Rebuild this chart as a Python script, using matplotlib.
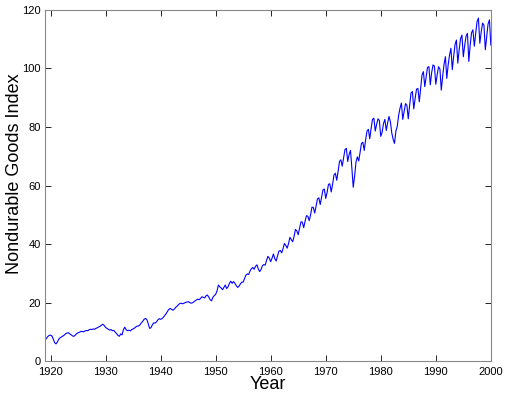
"""Nondurable goods index, quarterly readings 1919-2000"""
import matplotlib
matplotlib.use('Agg')
import matplotlib.pyplot as plt
import numpy as np

# one row per year, four readings per year
index_values = [
    7.2, 7.8, 8.4, 8.8,        # 1919
    8.9, 8.6, 7.5, 6.3,        # 1920
    5.9, 6.6, 7.5, 8.0,        # 1921
    8.3, 8.6, 8.9, 9.4,        # 1922
    9.6, 9.7, 9.3, 9.0,        # 1923
    8.6, 8.5, 8.9, 9.4,        # 1924
    9.7, 9.9, 10.1, 10.2,      # 1925
    10.0, 10.3, 10.5, 10.4,    # 1926
    10.7, 10.9, 10.8, 11.0,    # 1927
    10.9, 11.2, 11.4, 11.7,    # 1928
    11.9, 12.3, 12.6, 12.2,    # 1929
    11.5, 11.2, 10.9, 10.6,    # 1930
    10.8, 10.4, 10.5, 9.9,     # 1931
    9.4, 8.8, 8.5, 9.3,        # 1932
    9.0, 10.8, 11.6, 10.7,     # 1933
    10.4, 10.6, 10.3, 10.8,    # 1934
    11.0, 11.3, 11.7, 12.0,    # 1935
    12.0, 12.4, 13.1, 13.6,    # 1936
    14.3, 14.6, 14.2, 12.8,    # 1937
    11.2, 11.4, 12.4, 13.1,    # 1938
    13.0, 13.4, 14.1, 14.5,    # 1939
    14.3, 14.5, 15.0, 15.6,    # 1940
    16.2, 17.0, 17.7, 18.0,    # 1941
    17.7, 17.4, 17.8, 18.4,    # 1942
    18.8, 19.3, 19.7, 19.8,    # 1943
    19.6, 19.8, 20.0, 20.2,    # 1944
    20.3, 20.1, 19.8, 19.9,    # 1945
    20.2, 20.6, 20.9, 21.2,    # 1946
    21.0, 21.4, 22.0, 21.8,    # 1947
    21.6, 22.3, 22.6, 21.9,    # 1948
    21.0, 20.6, 21.8, 22.4,    # 1949
    22.8, 24.0, 26.0, 25.4,    # 1950
    25.0, 24.4, 25.2, 26.0,    # 1951
    24.8, 25.4, 26.6, 27.3,    # 1952
    26.6, 27.2, 26.6, 25.8,    # 1953
    25.2, 25.6, 26.4, 27.0,    # 1954
    27.0, 28.2, 29.4, 29.8,    # 1955
    29.6, 30.8, 31.6, 32.0,    # 1956
    31.4, 32.4, 32.9, 31.5,    # 1957
    30.6, 31.3, 32.6, 33.0,    # 1958
    32.8, 34.4, 35.8, 35.2,    # 1959
    34.0, 35.2, 36.6, 35.0,    # 1960
    34.2, 36.0, 37.6, 37.8,    # 1961
    37.0, 38.5, 40.2, 39.5,    # 1962
    38.6, 40.2, 42.3, 41.5,    # 1963
    40.8, 42.6, 45.0, 44.5,    # 1964
    43.2, 45.4, 47.6, 47.5,    # 1965
    45.6, 47.8, 49.7, 49.5,    # 1966
    48.0, 50.0, 52.6, 52.5,    # 1967
    50.6, 53.0, 55.4, 55.8,    # 1968
    53.5, 56.0, 58.5, 58.8,    # 1969
    55.6, 57.6, 60.4, 60.6,    # 1970
    57.8, 60.4, 63.6, 64.2,    # 1971
    61.8, 64.8, 68.2, 68.8,    # 1972
    66.6, 69.4, 72.3, 72.7,    # 1973
    68.2, 70.6, 72.0, 66.0,    # 1974
    59.4, 63.2, 68.0, 69.8,    # 1975
    68.4, 71.3, 74.4, 74.8,    # 1976
    72.0, 75.6, 78.6, 79.2,    # 1977
    76.0, 79.5, 82.6, 83.0,    # 1978
    78.6, 80.9, 82.8, 82.2,    # 1979
    76.8, 78.2, 81.2, 82.6,    # 1980
    78.8, 81.4, 83.6, 81.8,    # 1981
    78.0, 75.8, 74.4, 78.6,    # 1982
    80.2, 84.0, 86.4, 88.2,    # 1983
    82.6, 85.4, 88.0, 87.4,    # 1984
    82.8, 87.4, 91.6, 92.1,    # 1985
    86.2, 89.8, 92.9, 93.2,    # 1986
    88.6, 93.2, 97.8, 98.9,    # 1987
    93.8, 97.2, 100.4, 100.6,  # 1988
    94.4, 98.6, 101.2, 100.8,  # 1989
    94.6, 97.8, 100.6, 99.8,   # 1990
    92.6, 97.4, 101.4, 104.0,  # 1991
    96.6, 101.2, 104.6, 106.9, # 1992
    99.6, 104.2, 108.2, 109.7, # 1993
    101.8, 106.4, 110.2, 111.4,  # 1994
    104.0, 107.8, 111.0, 112.0,  # 1995
    102.4, 108.0, 112.2, 113.2,  # 1996
    107.6, 112.0, 116.0, 117.2,  # 1997
    108.6, 112.4, 115.5, 114.8,  # 1998
    106.4, 110.8, 115.2, 116.6,  # 1999
    108.0,                       # 2000
]
x_ticks = [1920, 1930, 1940, 1950, 1960, 1970, 1980, 1990, 2000]
y_ticks = [0, 20, 40, 60, 80, 100, 120]

years = 1919 + np.arange(len(index_values)) / 4.0

plt.rcParams['font.family'] = ['Liberation Sans', 'DejaVu Sans']

fig = plt.figure(figsize=(5.06, 3.96), dpi=100)
ax = fig.add_axes([0.089, 0.088, 0.881, 0.887])
ax.plot(years, index_values, color='#0000ff', linewidth=0.8)

ax.set_xlim(1919, 2000)
ax.set_ylim(0, 120)
ax.set_xticks(x_ticks)
ax.set_yticks(y_ticks)
ax.tick_params(direction='in', top=True, right=True, length=4, width=0.6,
               labelsize=8, colors='#000000')
ax.tick_params(axis='x', pad=4)
ax.tick_params(axis='y', pad=3)
for spine in ax.spines.values():
    spine.set_color('#888888')
    spine.set_linewidth(0.8)

ax.set_xlabel('Year', fontsize=13)
ax.set_ylabel('Nondurable Goods Index', fontsize=13)
ax.xaxis.set_label_coords(0.5, -0.042)
ax.yaxis.set_label_coords(-0.05, 0.535)

fig.savefig('out.png', dpi=100)
